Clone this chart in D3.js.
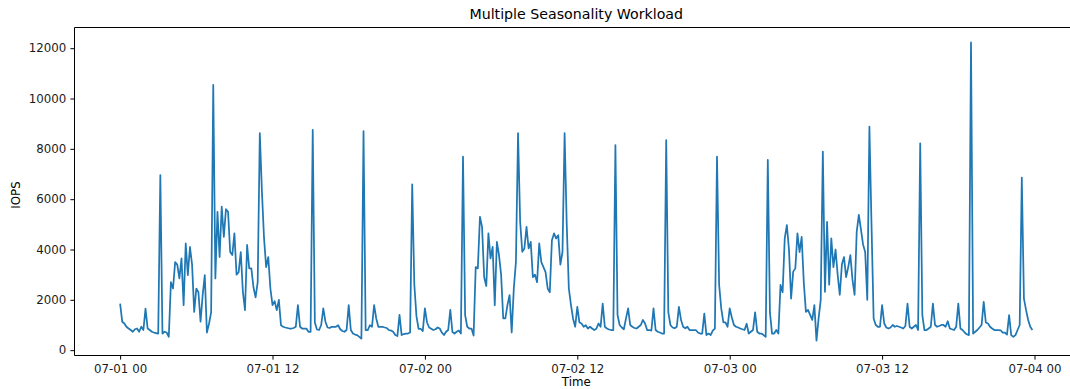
<!DOCTYPE html>
<html>
<head>
<meta charset="utf-8">
<script src="https://cdn.jsdelivr.net/npm/d3@7"></script>
<style>
  html, body { margin: 0; padding: 0; background: #fff; overflow: hidden; }
  svg { display: block; font-family: "DejaVu Sans", sans-serif; }
</style>
</head>
<body>
<svg id="chart" width="1070" height="389"></svg>
<script>
// IOPS samples, one every 10 minutes, one row per hour.
const jul01 = [
  1850, 1130, 1060, 930, 860, 800,
  730, 830, 860, 730, 930, 800,
  1650, 860, 800, 730, 700, 680,
  660, 6960, 660, 730, 700, 530,
  2700, 2450, 3500, 3400, 2850, 3650,
  1790, 4240, 2980, 4100, 3400, 1520,
  2450, 2300, 1130, 2190, 2980, 700,
  1050, 1500, 10540, 2850, 5500, 3700,
  5700, 4500, 5600, 5500, 3900, 3780,
  4640, 3000, 3100, 3900, 2320, 1590,
  4180, 3250, 3250, 2500, 2100, 2700,
  8620, 6300, 4440, 3300, 3700, 2450,
  1790, 1950, 1590, 2000, 990, 930,
  900, 880, 860, 860, 880, 930,
  1790, 930, 860, 860, 860, 730,
  730, 8750, 1100, 820, 800, 1000,
  1660, 1130, 900, 880, 930, 930,
  930, 990, 830, 760, 730, 800,
  1790, 800, 660, 620, 600, 530,
  460, 8700, 800, 800, 990, 930,
  1790, 1260, 930, 930, 930, 900,
  880, 800, 780, 730, 600, 560,
  1400, 600, 640, 660, 660, 700,
  6590, 2600, 1350, 850, 850, 760
];
const jul02 = [
  1660, 1100, 900, 850, 800, 830,
  900, 860, 700, 600, 730, 800,
  1600, 720, 660, 730, 780, 660,
  7690, 1390, 930, 860, 860, 580,
  3300, 3250, 5300, 4900, 2900, 2550,
  4640, 3650, 4100, 1790, 4300, 3780,
  3000, 1260, 1260, 1790, 2190, 700,
  2450, 3510, 8620, 5100, 3910, 4040,
  4900, 4040, 4300, 2900, 3000, 2700,
  4240, 3500, 3300, 3100, 2450, 2300,
  4370, 4640, 4440, 4570, 3400, 3900,
  8620, 5000, 2450, 1800, 1250, 930,
  1720, 1100, 1060, 930, 990, 860,
  930, 860, 800, 850, 1060, 930,
  1850, 930, 860, 820, 800, 800,
  8150, 1400, 1000, 900, 830, 1260,
  1660, 1000, 930, 880, 860, 930,
  1000, 1200, 1060, 800, 800, 780,
  1660, 800, 730, 700, 660, 660,
  8350, 1500, 1000, 900, 870, 930,
  1720, 1200, 930, 870, 930, 800,
  800, 800, 800, 700, 660, 660,
  1450, 600, 660, 600, 780, 860,
  7690, 2600, 1660, 1100, 1100, 930
];
const jul03 = [
  1660, 1300, 1000, 930, 900, 860,
  830, 800, 1050, 660, 730, 800,
  1500, 730, 660, 660, 600, 530,
  7560, 1500, 660, 660, 800, 660,
  2590, 2300, 4440, 4970, 4000, 2050,
  3120, 3250, 4640, 3900, 4500, 2700,
  1520, 1600, 1400, 1200, 1790, 380,
  1260, 2000, 7890, 2320, 5100, 2600,
  4440, 3300, 4000, 3000, 2200, 3400,
  3700, 2900, 3300, 3780, 2800, 2200,
  4700, 5380, 4800, 4200, 3900, 2000,
  8880, 4970, 1260, 1000, 930, 930,
  1790, 1060, 900, 860, 900, 1000,
  930, 960, 930, 900, 860, 960,
  1850, 930, 860, 930, 1000, 800,
  8220, 1390, 800, 800, 860, 930,
  1850, 1000, 930, 960, 1000, 1000,
  930, 1150, 860, 830, 800, 930,
  1850, 860, 800, 700, 630, 600,
  12230, 660, 730, 800, 900, 1000,
  1920, 1100, 1060, 930, 860, 800,
  800, 800, 790, 700, 700, 620,
  1390, 600, 530, 600, 800, 1000,
  6860, 2050, 1600, 1200, 930, 800
];

const startTime = Date.UTC(2019, 6, 1, 0, 0);
const stepMinutes = 10;
const xTickHours = [0, 12, 24, 36, 48, 60, 72];
const yTicks = [0, 2000, 4000, 6000, 8000, 10000, 12000];
const titleText = "Multiple Seasonality Workload";
const xLabelText = "Time";
const yLabelText = "IOPS";

const iops = jul01.concat(jul02, jul03);
const series = iops.map((v, i) => ({ t: new Date(startTime + i * stepMinutes * 60000), v }));

const plot = { left: 74.5, right: 1078, top: 27.5, bottom: 355.5 };
const svg = d3.select("#chart");

// Scales padded by 5% of the data span on each side
const tExt = d3.extent(series, d => d.t);
const tSpan = tExt[1] - tExt[0];
const x = d3.scaleUtc()
  .domain([new Date(+tExt[0] - 0.05 * tSpan), new Date(+tExt[1] + 0.05 * tSpan)])
  .range([plot.left, plot.right]);

const vExt = d3.extent(iops);
const vSpan = vExt[1] - vExt[0];
const y = d3.scaleLinear()
  .domain([vExt[0] - 0.05 * vSpan, vExt[1] + 0.05 * vSpan])
  .range([plot.bottom, plot.top]);

svg.append("defs").append("clipPath").attr("id", "plot-clip")
  .append("rect")
  .attr("x", plot.left).attr("y", plot.top)
  .attr("width", plot.right - plot.left).attr("height", plot.bottom - plot.top);

// Series line
const line = d3.line().x(d => x(d.t)).y(d => y(d.v));
svg.append("path")
  .datum(series)
  .attr("clip-path", "url(#plot-clip)")
  .attr("fill", "none")
  .attr("stroke", "#1f77b4")
  .attr("stroke-width", 1.75)
  .attr("stroke-linejoin", "round")
  .attr("d", line);

// Axes
const fontSize = 11.8;
const tickLen = 4.1;

const xAxis = d3.axisBottom(x)
  .tickValues(xTickHours.map(h => new Date(startTime + h * 3600000)))
  .tickFormat(d3.utcFormat("%m-%d %H"))
  .tickSize(tickLen)
  .tickSizeOuter(0);
const gx = svg.append("g")
  .attr("transform", `translate(0,${plot.bottom})`)
  .call(xAxis);
gx.select(".domain").remove();
gx.attr("font-size", fontSize).attr("font-family", "DejaVu Sans, sans-serif").attr("color", "#000");
gx.selectAll("text").attr("y", 17.5).attr("dy", "0").attr("fill", "#1a1a1a");
gx.selectAll("line").attr("stroke-width", 1);

const yAxis = d3.axisLeft(y)
  .tickValues(yTicks)
  .tickFormat(d3.format("d"))
  .tickSize(tickLen)
  .tickPadding(4.1)
  .tickSizeOuter(0);
const gy = svg.append("g")
  .attr("transform", `translate(${plot.left},0)`)
  .call(yAxis);
gy.select(".domain").remove();
gy.attr("font-size", fontSize).attr("font-family", "DejaVu Sans, sans-serif").attr("color", "#000");
gy.selectAll("text").attr("fill", "#1a1a1a");
gy.selectAll("line").attr("stroke-width", 1);

// Frame
const frame = svg.append("g").attr("stroke", "#000").attr("stroke-width", 1).attr("fill", "none");
frame.append("line").attr("x1", plot.left).attr("x2", plot.left).attr("y1", plot.top).attr("y2", plot.bottom);
frame.append("line").attr("x1", plot.right).attr("x2", plot.right).attr("y1", plot.top).attr("y2", plot.bottom);
frame.append("line").attr("x1", plot.left).attr("x2", plot.right).attr("y1", plot.top).attr("y2", plot.top);
frame.append("line").attr("x1", plot.left).attr("x2", plot.right).attr("y1", plot.bottom).attr("y2", plot.bottom);

// Titles
const midX = (plot.left + plot.right) / 2;
svg.append("text")
  .attr("x", midX).attr("y", 19)
  .attr("text-anchor", "middle")
  .attr("font-size", 14.2)
  .attr("fill", "#000")
  .text(titleText);

svg.append("text")
  .attr("x", midX).attr("y", 385.5)
  .attr("text-anchor", "middle")
  .attr("font-size", fontSize)
  .attr("fill", "#000")
  .text(xLabelText);

svg.append("text")
  .attr("transform", `translate(19.5,195) rotate(-90)`)
  .attr("text-anchor", "middle")
  .attr("font-size", fontSize)
  .attr("fill", "#000")
  .text(yLabelText);
</script>
</body>
</html>
